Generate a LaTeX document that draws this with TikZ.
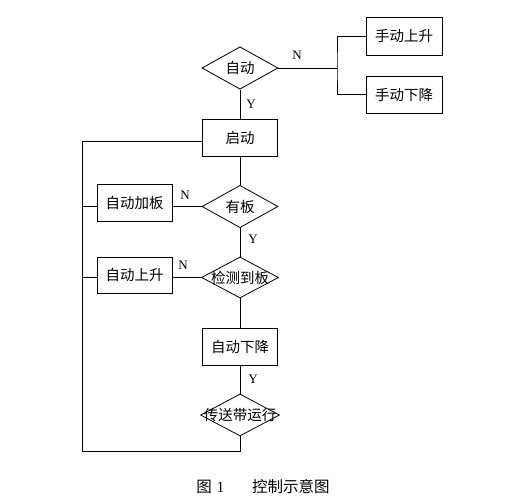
\documentclass[tikz,border=0pt]{standalone}
\usepackage{fontspec}
\setmainfont{Liberation Serif}
\newfontfamily\cjk{Noto Sans CJK SC}
\usetikzlibrary{shapes.geometric}
\begin{document}
\begin{tikzpicture}[x=1pt,y=-1pt,line width=0.8pt,
  box/.style={draw,rectangle,inner sep=0pt,minimum width=75pt,minimum height=37pt,font=\cjk\fontsize{14.5}{15}\selectfont},
  dia/.style={draw,diamond,inner sep=0pt,minimum width=76pt,minimum height=42pt,font=\cjk\fontsize{14.5}{15}\selectfont},
  lab/.style={font=\fontsize{13}{14}\selectfont,inner sep=0pt}]
\useasboundingbox (0,0) rectangle (527,501);
% nodes
\node[dia] (d1) at (240,68) {自动};
\node[box,minimum width=76pt,minimum height=38pt] (b1) at (404,36) {手动上升};
\node[box,minimum width=76pt] (b2) at (404,94.5) {手动下降};
\node[box] (b3) at (240,137.5) {启动};
\node[dia,minimum height=41pt] (d2) at (240,206.5) {有板};
\node[box] (b4) at (134.5,202.5) {自动加板};
\node[dia,minimum width=77pt,minimum height=41pt] (d3) at (240,277.5) {\makebox[0pt]{检测到板}};
\node[box,minimum height=36pt] (b5) at (134.5,275) {自动上升};
\node[box] (b6) at (240,346.5) {自动下降};
\node[dia,minimum width=79pt] (d4) at (240,415) {\makebox[0pt]{传送带运行}};
% labels
\node[lab] (n1) at (297,55) {N};
\node[lab] (y1) at (251,104) {Y};
\node[lab] (n2) at (185,195) {N};
\node[lab] (y2) at (253,239) {Y};
\node[lab] (n3) at (183,265) {N};
\node[lab] (y3) at (253,379) {Y};
% coordinates
\coordinate (j) at (337,68);
\coordinate (lt) at (82,141);
\coordinate (lb) at (82,451);
% connectors
\draw (d1.east) -- (j);
\draw (b1.west) -| (j) |- (b2.west);
\draw (d1.south) -- (b3.north);
\draw (b3.south) -- (d2.north);
\draw (d2.south) -- (d3.north);
\draw (d3.south) -- (b6.north);
\draw (b6.south) -- (d4.north);
\draw (d2.west) -- (b4.east |- d2.west);
\draw (d3.west) -- (b5.east |- d3.west);
\draw (d4.south) |- (lb) -- (lt) -- (b3.west |- lt);
\draw (lt |- d2.west) -- (b4.west |- d2.west);
\draw (lt |- d3.west) -- (b5.west |- d3.west);
% caption
\node[font=\cjk\fontsize{15.5}{16}\selectfont,inner sep=0pt] (cap) at (263,487) {图\hspace{0.3em}{\rmfamily 1}\hspace{1.8em}控制示意图};
\end{tikzpicture}
\end{document}
